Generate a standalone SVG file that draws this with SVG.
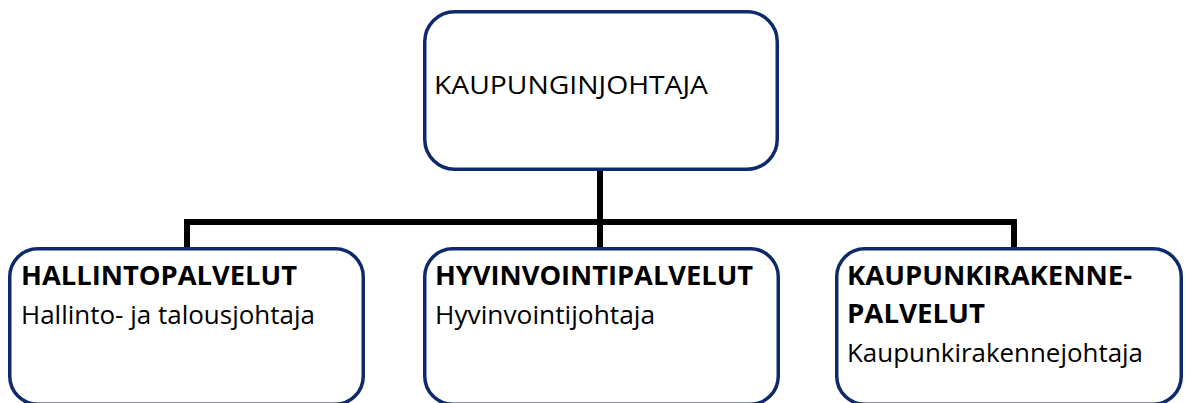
<svg xmlns="http://www.w3.org/2000/svg" width="1186" height="403" viewBox="0 0 1186 403">
<style>
.box{fill:#ffffff;stroke:#0f2a6c;stroke-width:3.5}
.conn{fill:none;stroke:#000000;stroke-width:6;stroke-linecap:butt}
text{font-family:"Open Sans","Noto Sans",sans-serif;fill:#000000;font-size:26px}
.b{font-weight:bold}
</style>
<rect width="1186" height="403" fill="#ffffff"/>
<g id="connectors">
<line class="conn" x1="600" y1="171" x2="600" y2="222"/>
<line class="conn" x1="184" y1="222" x2="1017" y2="222"/>
<line class="conn" x1="187" y1="222" x2="187" y2="248"/>
<line class="conn" x1="600" y1="222" x2="600" y2="248"/>
<line class="conn" x1="1014" y1="222" x2="1014" y2="248"/>
</g>
<g id="kaupunginjohtaja">
<rect class="box" x="424.75" y="11.75" width="352.5" height="157.5" rx="30"/>
<text x="434" y="94" textLength="274" lengthAdjust="spacingAndGlyphs">KAUPUNGINJOHTAJA</text>
</g>
<g id="hallintopalvelut">
<rect class="box" x="9.75" y="248.75" width="353.5" height="155.5" rx="28"/>
<text class="b" x="21" y="285" textLength="276" lengthAdjust="spacingAndGlyphs">HALLINTOPALVELUT</text>
<text x="21" y="324" textLength="294" lengthAdjust="spacingAndGlyphs">Hallinto- ja talousjohtaja</text>
</g>
<g id="hyvinvointipalvelut">
<rect class="box" x="424.75" y="248.75" width="353.5" height="155.5" rx="28"/>
<text class="b" x="435" y="285" textLength="318" lengthAdjust="spacingAndGlyphs">HYVINVOINTIPALVELUT</text>
<text x="435" y="324" textLength="220" lengthAdjust="spacingAndGlyphs">Hyvinvointijohtaja</text>
</g>
<g id="kaupunkirakennepalvelut">
<rect class="box" x="836.75" y="248.75" width="344.5" height="155.5" rx="28"/>
<text class="b" x="847" y="285" textLength="285" lengthAdjust="spacingAndGlyphs">KAUPUNKIRAKENNE-</text>
<text class="b" x="847" y="323" textLength="138" lengthAdjust="spacingAndGlyphs">PALVELUT</text>
<text x="847" y="362" textLength="296" lengthAdjust="spacingAndGlyphs">Kaupunkirakennejohtaja</text>
</g>
</svg>
